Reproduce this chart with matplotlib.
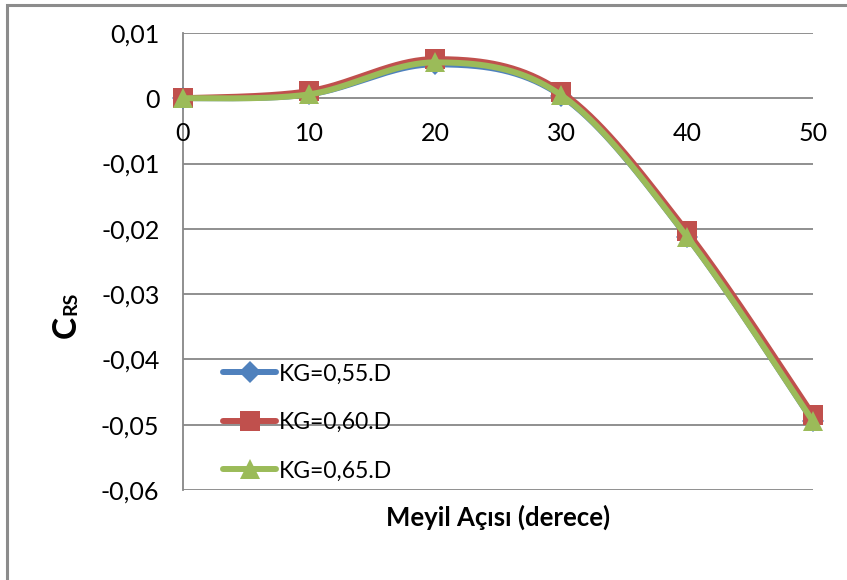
import numpy as np
import matplotlib
matplotlib.use("Agg")
import matplotlib.pyplot as plt
from matplotlib.lines import Line2D
from matplotlib.patches import Rectangle

# Heel angle (degrees) and C_RS coefficient for three KG values
angles = [0, 10, 20, 30, 40, 50]
crs_kg055 = [0.0, 0.0006, 0.0052, 0.0004, -0.0212, -0.0495]
crs_kg060 = [0.0, 0.0011, 0.0060, 0.0010, -0.0204, -0.0485]
crs_kg065 = [0.0, 0.0006, 0.0055, 0.0005, -0.0212, -0.0495]
series_labels = ["KG=0,55.D", "KG=0,60.D", "KG=0,65.D"]
y_ticks = [0.01, 0.0, -0.01, -0.02, -0.03, -0.04, -0.05, -0.06]
y_tick_labels = ["0,01", "0", "-0,01", "-0,02", "-0,03", "-0,04", "-0,05", "-0,06"]
x_ticks = [0, 10, 20, 30, 40, 50]

plt.rcParams["font.family"] = ["Lato", "DejaVu Sans"]


def smooth_curve(xs, ys, n=40):
    """Bezier-smoothed path through the points (Catmull-Rom style control points)."""
    p = np.column_stack([xs, ys]).astype(float)
    ext = np.vstack([p[0], p, p[-1]])
    out = []
    t = np.linspace(0, 1, n)[:, None]
    for i in range(len(p) - 1):
        p0, p1, p2, p3 = ext[i], ext[i + 1], ext[i + 2], ext[i + 3]
        c1 = p1 + (p2 - p0) / 6.0
        c2 = p2 - (p3 - p1) / 6.0
        seg = ((1 - t) ** 3) * p1 + 3 * ((1 - t) ** 2) * t * c1 + 3 * (1 - t) * t ** 2 * c2 + t ** 3 * p2
        out.append(seg if i == 0 else seg[1:])
    seg = np.vstack(out)
    return seg[:, 0], seg[:, 1]


W, H = 847, 580
fig = plt.figure(figsize=(W / 100, H / 100), dpi=100)
fig.patch.set_facecolor("white")

# chart frame
fig.patches.append(Rectangle((7 / W, -0.1), 1.2, 1 - 5 / H + 0.1, transform=fig.transFigure,
                             fill=False, edgecolor="#8c8c8c", linewidth=2.2))

ax = fig.add_axes([183 / W, 1 - 490 / H, (813 - 183) / W, (490 - 33) / H])
ax.set_xlim(0, 50)
ax.set_ylim(-0.06, 0.01)

grid_c = "#878787"
for yv in y_ticks:
    ax.axhline(yv, color=grid_c, linewidth=1.3, zorder=1)
for s in ["top", "right", "bottom"]:
    ax.spines[s].set_visible(False)
ax.spines["left"].set_color(grid_c)
ax.spines["left"].set_linewidth(1.3)

ax.set_yticks(y_ticks)
ax.set_yticklabels(y_tick_labels, fontsize=18)
ax.tick_params(axis="y", length=0, pad=17)
ax.set_xticks([])
for xv in x_ticks:
    ax.annotate(str(xv), xy=(xv, 0.0), xycoords="data", xytext=(0, -17),
                textcoords="offset points", ha="center", va="top", fontsize=18)

colors = ["#4F81BD", "#C0504D", "#9BBB59"]
markers = ["D", "s", "^"]
msizes = [11, 14, 15]
data = [crs_kg055, crs_kg060, crs_kg065]
for vals, col, mk, ms, z in zip(data, colors, markers, msizes, [3, 4, 5]):
    sx, sy = smooth_curve(angles, vals)
    ax.plot(sx, sy, color=col, linewidth=4.3, solid_capstyle="round", zorder=z, clip_on=False)
    ax.plot(angles, vals, linestyle="none", marker=mk, markersize=ms, color=col,
            markeredgewidth=0, zorder=z, clip_on=False)

handles = [Line2D([0], [0], color=c, linewidth=4.3, marker=m, markersize=s, markeredgewidth=0,
                  solid_capstyle="round")
           for c, m, s in zip(colors, markers, msizes)]
fig.legend(handles, series_labels, loc="upper left", bbox_to_anchor=(212 / W, 1 - 352 / H),
           frameon=False, fontsize=16.5, handlelength=2.3, handletextpad=0.1,
           labelspacing=1.2, borderpad=0)

fig.text(498 / W, 1 - 517 / H, "Meyil Açısı (derece)", ha="center", va="center",
         fontsize=18.5, fontweight="bold")
fig.text(81 / W, 1 - 327 / H, "C", rotation=90, ha="right", va="center",
         fontsize=24, fontweight="bold")
fig.text(79 / W, 1 - 303 / H, "RS", rotation=90, ha="right", va="center",
         fontsize=14, fontweight="bold")

fig.savefig("out.png", dpi=100)
